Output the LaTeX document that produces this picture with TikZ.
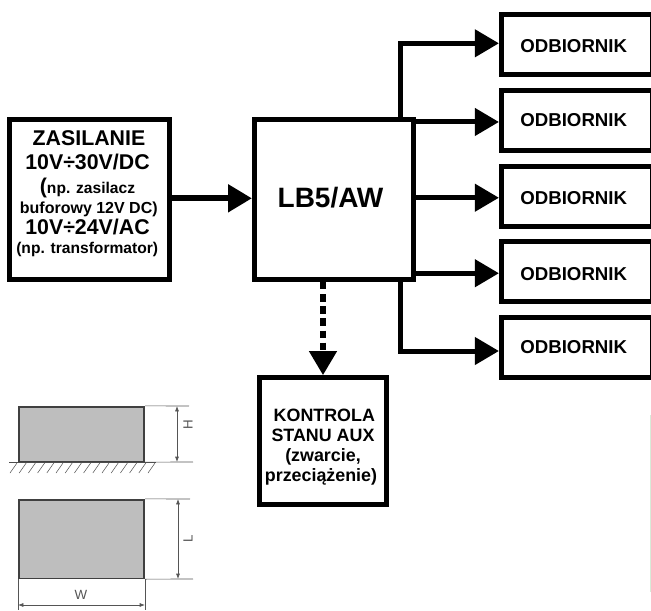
\documentclass[tikz,border=0pt]{standalone}
\usepackage{fontspec}
\setmainfont{Liberation Sans}
\usetikzlibrary{arrows.meta}
\definecolor{dimgrey}{HTML}{555555}
\definecolor{fillgrey}{HTML}{BEBEBE}
\definecolor{faintgreen}{HTML}{D8EBD8}
\tikzset{
	blockbox/.style={draw=black, line width=3.75pt, align=center, font=\bfseries, inner sep=0pt},
	odbbox/.style={blockbox, minimum width=113.6pt, minimum height=45pt, font=\fontsize{14}{16}\selectfont\bfseries},
	bigline/.style={anchor=base, inner sep=0pt, font=\fontsize{16}{16}\selectfont\bfseries},
	smallline/.style={anchor=base, inner sep=0pt, font=\fontsize{11.7}{14}\selectfont\bfseries},
	thickline/.style={line width=3.75pt, -{Triangle[length=18pt, width=20pt]}},
	partbox/.style={draw=black!75, line width=1.25pt, fill=fillgrey, minimum width=94pt, inner sep=0pt},
	dimline/.style={draw=dimgrey, line width=.5pt, {Latex[length=4pt, width=3pt]}-{Latex[length=4pt, width=3pt]}},
	extline/.style={draw=dimgrey, line width=.5pt},
	dimtext/.style={text=dimgrey, font=\fontsize{10}{12}\selectfont}
}
\begin{document}
\begin{tikzpicture}[x=.75pt, y=-.75pt]
	\useasboundingbox (0, 0) rectangle (651, 611);

	\node[blockbox, minimum width=120pt, minimum height=120pt] (zasilanie) at (89.5, 199.5) {};
	\node[bigline] (zas1) at (89, 145) {ZASILANIE};
	\node[bigline] (zas2) at (87.5, 169) {10V÷30V/DC};
	\node[smallline] (zas3) at (87.5, 193) {{\fontsize{16}{16}\selectfont (}np. zasilacz};
	\node[smallline, font=\fontsize{12}{14}\selectfont\bfseries] (zas4) at (88.8, 213) {buforowy 12V DC)};
	\node[bigline] (zas5) at (87.5, 234) {10V÷24V/AC};
	\node[smallline] (zas6) at (87.2, 253) {(np. transformator)};

	\node[blockbox, minimum width=119.25pt, minimum height=120pt, font=\fontsize{21}{24}\selectfont\bfseries] (lb5) at (334, 199.5) {LB5/AW\hspace*{5.2pt}\rule[-3.8pt]{0pt}{0pt}};
	\node[blockbox, minimum width=95pt, minimum height=95pt, font=\fontsize{13.4}{15}\selectfont\bfseries] (kontrola) at (323, 441) {\rule{0pt}{19pt}\hspace*{2pt}KONTROLA\\STANU AUX\hspace*{6pt}\\(zwarcie,\hspace*{6pt}\\przeciążenie)\hspace*{3pt}};

	\node[odbbox] (odb1) at (577.2, 44.5) {ODBIORNIK\hspace*{5.2pt}\rule{0pt}{12.2pt}};
	\node[odbbox] (odb2) at (577.2, 120.5) {ODBIORNIK\hspace*{5.2pt}};
	\node[odbbox] (odb3) at (577.2, 196) {ODBIORNIK\hspace*{5.2pt}\rule{0pt}{13.2pt}};
	\node[odbbox] (odb4) at (577.2, 271.5) {ODBIORNIK\hspace*{5.2pt}\rule{0pt}{13.9pt}};
	\node[odbbox] (odb5) at (577.2, 347) {ODBIORNIK\hspace*{5.2pt}};

	\coordinate (top) at (400.5, 118);
	\coordinate (bottom) at (400.5, 281);
	\coordinate (in1) at ([yshift=.9pt]odb1.west);
	\coordinate (in2) at ([yshift=-1.1pt]odb2.west);
	\coordinate (in3) at ([yshift=-1.3pt]odb3.west);
	\coordinate (in4) at ([yshift=-1.3pt]odb4.west);
	\coordinate (in5) at ([yshift=-3pt]odb5.west);

	\draw[thickline, line width=4.5pt] ([yshift=.9pt]zasilanie.east) -- ([yshift=.9pt]lb5.west);
	\draw[thickline] (top) |- (in1);
	\draw[thickline] (lb5.east |- in2) -- (in2);
	\draw[thickline] (lb5.east |- in3) -- (in3);
	\draw[thickline] (lb5.east |- in4) -- (in4);
	\draw[thickline] (bottom) |- (in5);
	\draw[line width=4pt, dash pattern=on 5.6pt off 3.5pt, -{Triangle[length=18pt, width=20pt]}] (lb5.south -| kontrola) -- (kontrola.north);

	% wymiary
	\node[partbox, minimum height=41pt] (boxh) at (81.5, 434) {};
	\node[partbox, minimum height=59pt] (boxl) at (81.5, 539) {};

	\draw[draw=black!70, line width=.7pt] (9, 462) -- (156, 462);
	\foreach \x in {0, ..., 15}
		\draw[draw=dimgrey, line width=.4pt] (10 + \x * 9.2, 473) -- (17 + \x * 9.2, 463);

	\coordinate (ht) at (189, 406);
	\coordinate (hb) at (193, 462);
	\coordinate (lt) at (190, 499);
	\coordinate (lb) at (193, 579);
	\coordinate (wl) at (18, 610);
	\coordinate (wr) at (145, 610);
	\coordinate (ha) at (177, 406);
	\coordinate (hz) at (177, 462);
	\coordinate (la) at (178, 499);
	\coordinate (lz) at (178, 579);
	\coordinate (wa) at (18, 605);
	\coordinate (wz) at (145, 605);

	\draw[extline] (boxh.north east) -- (ht);
	\draw[extline] (boxh.south east) -- (hb);
	\draw[extline] (boxl.north east) -- (lt);
	\draw[extline] (boxl.south east) -- (lb);
	\draw[extline] (boxl.south west) -- (wl);
	\draw[extline] (boxl.south east) -- (wr);
	\draw[dimline] (ha) -- (hz);
	\draw[dimline] (la) -- (lz);
	\draw[dimline] (wa) -- (wz);

	\node[dimtext, rotate=90] (h) at (188, 425) {H};
	\node[dimtext, rotate=90] (l) at (188, 539) {L};
	\node[dimtext] (w) at (81, 595) {W};

	\coordinate (greentop) at (650, 415);
	\coordinate (greenbottom) at (650, 592);
	\draw[draw=faintgreen, line width=.75pt] (greentop) -- (greenbottom);
\end{tikzpicture}
\end{document}
